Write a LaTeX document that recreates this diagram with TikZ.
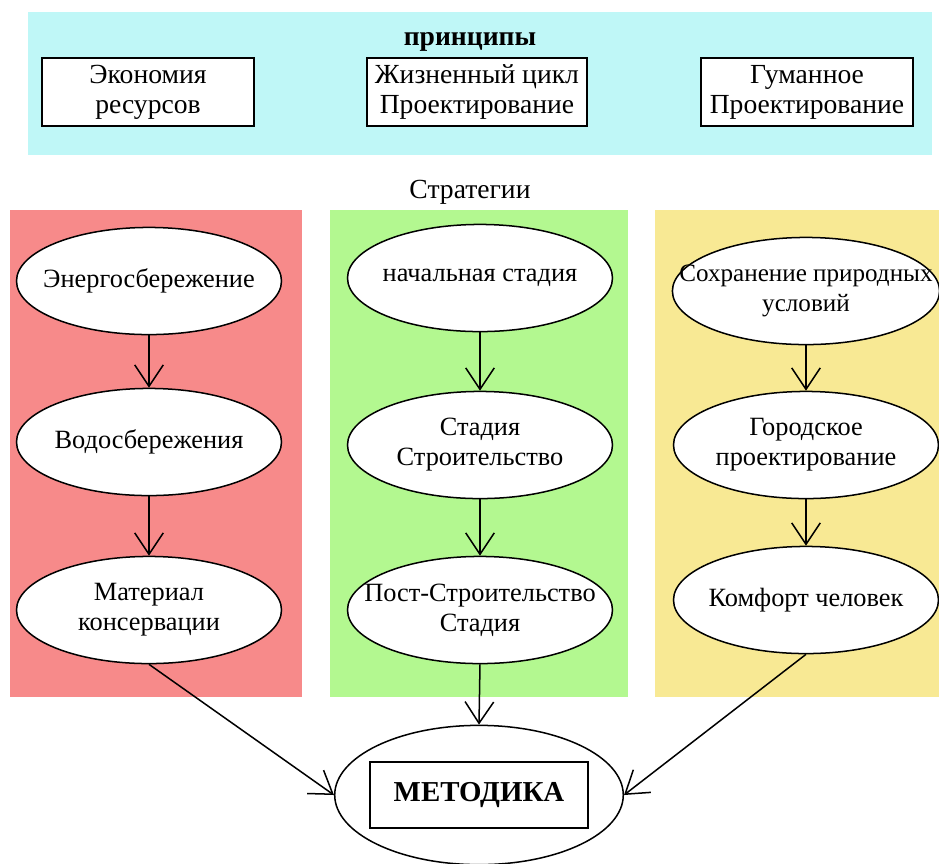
\documentclass[tikz,border=0pt]{standalone}
\usepackage{fontspec}
\setmainfont{Liberation Serif}
\usetikzlibrary{shapes.geometric,arrows.meta}
\tikzset{x=0.14mm,y=-0.14mm}
\definecolor{princbg}{HTML}{BFF7F7}
\definecolor{resbg}{HTML}{F78A8A}
\definecolor{lifebg}{HTML}{B3F890}
\definecolor{humbg}{HTML}{F8E994}
\tikzset{
  principle/.style={draw, thick, fill=white, inner ysep=0pt, minimum width=2.98cm, minimum height=0.95cm, align=center, font=\fontsize{11}{12}\selectfont},
  strategy/.style={ellipse, draw, line width=0.6pt, fill=white, inner xsep=-0.45cm, inner ysep=-0.05cm, minimum width=3.71cm, minimum height=1.5cm, align=center, font=\fontsize{10.5}{12}\selectfont},
  flow/.style={line width=0.6pt, -{Straight Barb[length=3mm,width=4mm]}}
}

\begin{document}
\begin{tikzpicture}
\useasboundingbox (0,0) rectangle (939,863);

%% Backgrounds
\fill[princbg] (28,12) rectangle (932,155);
\fill[resbg] (10,210) rectangle (302,697);
\fill[lifebg] (330,210) rectangle (628,697);
\fill[humbg] (655,210) rectangle (939,697);

\node[font=\bfseries\fontsize{11}{12}\selectfont] (ptitle) at (470,42) {принципы};
\node[font=\fontsize{11}{12}\selectfont] (stitle) at (470,192) {Стратегии};

%% Principles
\node[principle] (P1) at (148,92) {Экономия\\ресурсов};
\node[principle] (P2) at (477,92) {Жизненный цикл\\Проектирование};
\node[principle] (P3) at (807,92) {Гуманное\\Проектирование};

%% Strategies
\node[strategy] (R1) at (149,281) {Энергосбережение};
\node[strategy] (R2) at (149,442) {Водосбережения};
\node[strategy] (R3) at (149,610) {Материал\\консервации};

\node[strategy] (L1) at (480,278) {начальная стадия};
\node[strategy] (L2) at (480,445) {Стадия\\Строительство};
\node[strategy] (L3) at (480,610) {Пост-Строительство\\Стадия};

\node[strategy, font=\fontsize{10}{12}\selectfont] (H1) at (806,291) {Сохранение природных\\условий};
\node[strategy] (H2) at (806,445) {Городское\\проектирование};
\node[strategy] (H3) at (806,600) {Комфорт человек};

%% Method
\node[ellipse, draw, line width=0.6pt, fill=white, minimum width=4.04cm, minimum height=1.95cm] (M) at (479,795) {};
\node[draw, thick, minimum width=3.04cm, minimum height=0.92cm, font=\bfseries\fontsize{11.5}{13}\selectfont] (Mbox) at (M) {МЕТОДИКА};

\draw[flow] (R1) -- (R2);
\draw[flow] (R2) -- (R3);
\draw[flow] (L1) -- (L2);
\draw[flow] (L2) -- (L3);
\draw[flow] (H1) -- (H2);
\draw[flow] (H2) -- (H3);

\draw[flow] (R3.south) -- (M.west);
\draw[flow] (L3.south) -- (M.north);
\draw[flow] (H3.south) -- (M.east);

\end{tikzpicture}
\end{document}
